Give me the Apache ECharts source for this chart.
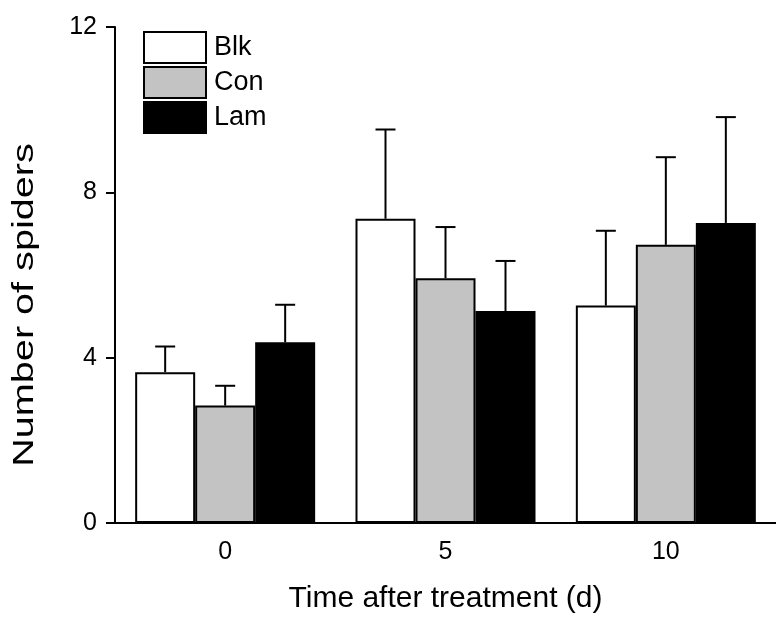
<!DOCTYPE html>
<html>
<head>
<meta charset="utf-8">
<script src="https://cdn.jsdelivr.net/npm/echarts@6/dist/echarts.min.js"></script>
<style>
    html, body { margin: 0; padding: 0; background: #fff; }
    #chart { width: 776px; height: 623px; }
</style>
</head>
<body>
<div id="chart"></div>
<script>
    // days after treatment
    const days = ['0', '5', '10'];
    // means
    const blkMean = [3.65, 7.36, 5.26];
    const conMean = [2.84, 5.92, 6.73];
    const lamMean = [4.37, 5.13, 7.26];
    // upper error (SE)
    const blkErr = [0.62, 2.16, 1.81];
    const conErr = [0.48, 1.24, 2.12];
    const lamErr = [0.91, 1.21, 2.56];
    const yTicks = { min: 0, max: 12, step: 4 };

    const font = '"Liberation Sans", Arial, sans-serif';
    const barW = 60;

    function errData(mean, err) {
        return mean.map(function (m, i) { return [i, m, m + err[i]]; });
    }

    function errorBar(offset) {
        return function (params, api) {
            const i = api.value(0);
            const base = api.coord([i, api.value(1)]);
            const top = api.coord([i, api.value(2)]);
            const x = base[0] + offset;
            const st = { stroke: '#000', lineWidth: 2 };
            return {
                type: 'group',
                children: [
                    { type: 'line', shape: { x1: x, y1: base[1], x2: x, y2: top[1] }, style: st },
                    { type: 'line', shape: { x1: x - 10, y1: top[1], x2: x + 10, y2: top[1] }, style: st }
                ]
            };
        };
    }

    function barSeries(name, color, data) {
        return {
            name: name,
            type: 'bar',
            barWidth: barW,
            barGap: '0%',
            itemStyle: { color: color, borderColor: '#000', borderWidth: 2 },
            data: data
        };
    }

    function errSeries(offset, mean, err) {
        return {
            type: 'custom',
            silent: true,
            z: 3,
            renderItem: errorBar(offset),
            data: errData(mean, err)
        };
    }

    let myChart = echarts.init(document.getElementById('chart'));
    myChart.setOption({
        animation: false,
        backgroundColor: '#fff',
        grid: { left: 115, top: 27, width: 669, height: 496 },
        legend: {
            data: ['Blk', 'Con', 'Lam'],
            orient: 'vertical',
            left: 143,
            top: 31,
            padding: 0,
            icon: 'rect',
            itemWidth: 62,
            itemHeight: 31,
            itemGap: 2,
            textStyle: { fontFamily: font, fontSize: 27, color: '#000', padding: [0, 0, 0, 3] }
        },
        xAxis: {
            type: 'category',
            data: days,
            name: 'Time after treatment (d)',
            nameLocation: 'middle',
            nameGap: 61,
            nameTextStyle: { fontFamily: font, fontSize: 30, color: '#000' },
            axisLine: { lineStyle: { color: '#000', width: 2 } },
            axisTick: { alignWithLabel: true, length: 10, lineStyle: { color: '#000', width: 2 } },
            axisLabel: { fontFamily: font, fontSize: 25, color: '#000', margin: 17 },
            splitLine: { show: false }
        },
        yAxis: {
            type: 'value',
            min: yTicks.min,
            max: yTicks.max,
            interval: yTicks.step,
            axisLine: { show: true, lineStyle: { color: '#000', width: 2 } },
            axisTick: { show: true, length: 9, lineStyle: { color: '#000', width: 2 } },
            axisLabel: { fontFamily: font, fontSize: 25, color: '#000', margin: 18 },
            splitLine: { show: false }
        },
        graphic: [{
            type: 'text',
            x: 25,
            y: 305,
            rotation: Math.PI / 2,
            scaleX: 1.32,
            style: {
                text: 'Number of spiders',
                font: '30px ' + font,
                fill: '#000',
                align: 'center',
                verticalAlign: 'middle'
            }
        }],
        series: [
            barSeries('Blk', '#ffffff', blkMean),
            barSeries('Con', '#c3c3c3', conMean),
            barSeries('Lam', '#000000', lamMean),
            errSeries(-barW, blkMean, blkErr),
            errSeries(0, conMean, conErr),
            errSeries(barW, lamMean, lamErr)
        ]
    });
</script>
</body>
</html>
